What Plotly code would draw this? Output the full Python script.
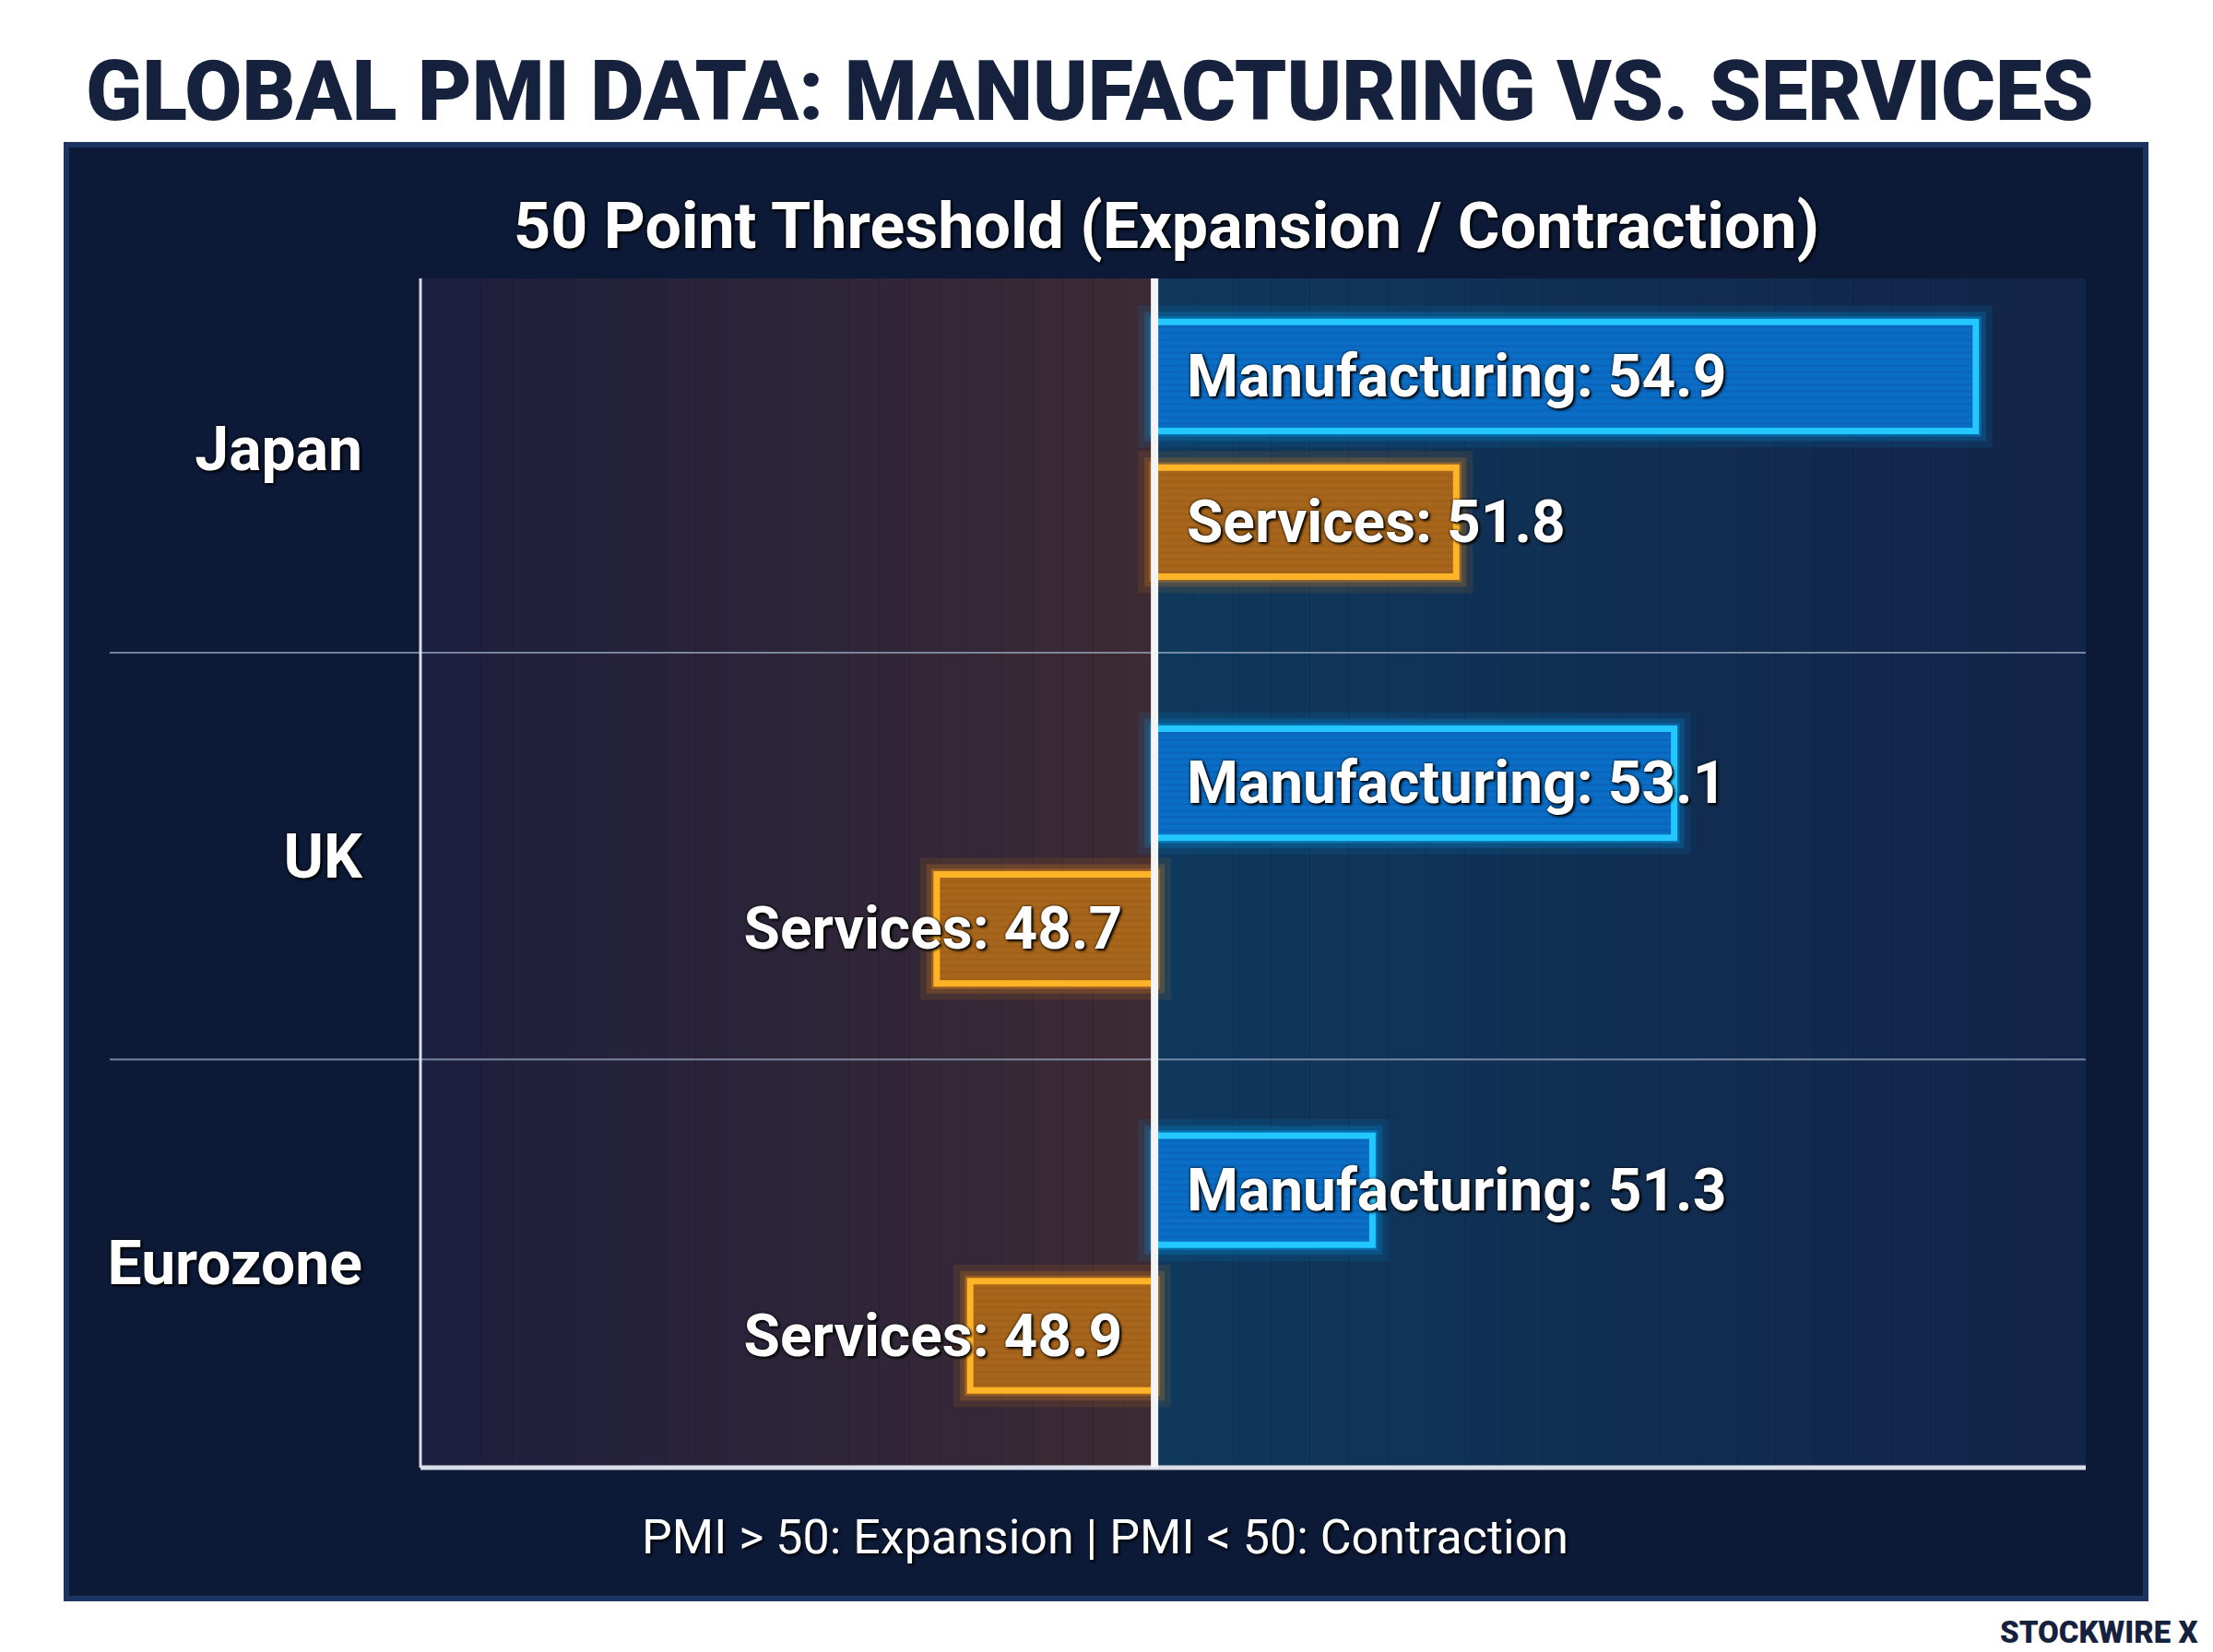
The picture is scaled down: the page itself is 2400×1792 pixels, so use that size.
import plotly.graph_objects as go

# ---------------- data ----------------
countries = ["Japan", "UK", "Eurozone"]
manufacturing = [54.9, 53.1, 51.3]
services = [51.8, 48.7, 48.9]
threshold = 50

title_text = "GLOBAL PMI DATA: MANUFACTURING VS. SERVICES"
subtitle_text = "50 Point Threshold (Expansion / Contraction)"
footer_text = "PMI > 50: Expansion | PMI < 50: Contraction"
brand_text = "STOCKWIRE X"

# ---------------- layout helpers ----------------
W, H = 2400, 1792


def fx(p):
    return p / W


def fy(p):
    return 1 - p / H


PLOT_L, PLOT_R, PLOT_T, PLOT_B = 456, 2262, 302, 1592
X_RANGE = [45.62, 55.556]
Y_RANGE = [2.503, -0.42]
BAR_W = 0.268
MFG_OFF = -0.313
SRV_OFF = 0.045

shadow = "0px 0px 3px #000, 2px 2px 3px #000"
PAD = "\u00a0\u00a0"


def label(name, v):
    # pad on the side of the threshold line
    return f"{PAD}{name}: {v}" if v >= threshold else f"{name}: {v}{PAD}"


fig = go.Figure()

# glow layers
for vals, off, rgb in [(manufacturing, MFG_OFF, "0,170,255"), (services, SRV_OFF, "255,150,20")]:
    for lw, a in [(36, 0.10), (22, 0.18), (12, 0.32)]:
        fig.add_trace(go.Bar(
            y=countries, x=[v - threshold for v in vals], base=threshold,
            orientation="h", offset=off, width=BAR_W,
            marker=dict(color="rgba(0,0,0,0)", line=dict(color=f"rgba({rgb},{a})", width=lw)),
            hoverinfo="skip", showlegend=False,
        ))

text_font = dict(family="Roboto", size=64, color="white", weight=700, shadow=shadow)

fig.add_trace(go.Bar(
    name="Manufacturing", y=countries, x=[v - threshold for v in manufacturing], base=threshold,
    orientation="h", offset=MFG_OFF, width=BAR_W,
    marker=dict(color="#0b6ec6", line=dict(color="#22c8ff", width=7),
                pattern=dict(shape="-", fgcolor="rgba(0,40,110,0.28)", bgcolor="#0b6ec6",
                             size=7, solidity=0.35)),
    text=[label("Manufacturing", v) for v in manufacturing],
    customdata=manufacturing,
    hovertemplate="%{y}<br>Manufacturing: %{customdata}<extra></extra>",
    textposition="inside", insidetextanchor="start", constraintext="none", textangle=0,
    textfont=text_font, cliponaxis=False,
))
fig.add_trace(go.Bar(
    name="Services", y=countries, x=[v - threshold for v in services], base=threshold,
    orientation="h", offset=SRV_OFF, width=BAR_W,
    marker=dict(color="#a8661c", line=dict(color="#ffb427", width=7),
                pattern=dict(shape="-", fgcolor="rgba(110,50,0,0.28)", bgcolor="#a8661c",
                             size=7, solidity=0.35)),
    text=[label("Services", v) for v in services],
    customdata=services,
    hovertemplate="%{y}<br>Services: %{customdata}<extra></extra>",
    textposition="inside", insidetextanchor="start", constraintext="none", textangle=0,
    textfont=text_font, cliponaxis=False,
))

shapes = []
# dark panel
shapes.append(dict(type="rect", xref="paper", yref="paper", x0=fx(72), x1=fx(2327), y0=fy(1734), y1=fy(157),
                   fillcolor="#0c1a37", line=dict(color="#1c3462", width=6), layer="below"))


def lerp(c1, c2, t):
    return "#%02x%02x%02x" % tuple(round(a + (b - a) * t) for a, b in zip(c1, c2))


n = 24
left_c0, left_c1 = (29, 31, 62), (60, 42, 52)
right_c0, right_c1 = (15, 56, 92), (18, 36, 72)
for i in range(n):
    t = i / (n - 1)
    a = X_RANGE[0] + (threshold - X_RANGE[0]) * i / n
    b = X_RANGE[0] + (threshold - X_RANGE[0]) * (i + 1) / n
    shapes.append(dict(type="rect", xref="x", yref="paper", x0=a, x1=b, y0=fy(PLOT_B), y1=fy(PLOT_T),
                       fillcolor=lerp(left_c0, left_c1, t), line=dict(width=0), layer="below"))
    a2 = threshold + (X_RANGE[1] - threshold) * i / n
    b2 = threshold + (X_RANGE[1] - threshold) * (i + 1) / n
    shapes.append(dict(type="rect", xref="x", yref="paper", x0=a2, x1=b2, y0=fy(PLOT_B), y1=fy(PLOT_T),
                       fillcolor=lerp(right_c0, right_c1, t), line=dict(width=0), layer="below"))

# row dividers
for yv in [0.5, 1.5]:
    shapes.append(dict(type="line", xref="paper", yref="y", x0=fx(119), x1=fx(PLOT_R), y0=yv, y1=yv,
                       line=dict(color="rgba(150,165,190,0.75)", width=2), layer="below"))
# left axis line
shapes.append(dict(type="line", xref="paper", yref="paper", x0=fx(PLOT_L), x1=fx(PLOT_L),
                   y0=fy(PLOT_B), y1=fy(PLOT_T), line=dict(color="#d8dde8", width=3)))
# bottom axis line
shapes.append(dict(type="line", xref="paper", yref="paper", x0=fx(PLOT_L), x1=fx(PLOT_R),
                   y0=fy(PLOT_B), y1=fy(PLOT_B), line=dict(color="#d8dde8", width=5)))
# threshold line
shapes.append(dict(type="line", xref="x", yref="paper", x0=threshold, x1=threshold,
                   y0=fy(PLOT_B), y1=fy(PLOT_T), line=dict(color="#f4f4f4", width=8)))

annotations = [
    dict(text=title_text, x=fx(1182), y=fy(100), xref="paper", yref="paper", showarrow=False,
         xanchor="center", yanchor="middle",
         font=dict(family="Roboto", size=90, color="#16223d", weight=900)),
    dict(text=subtitle_text, x=fx(1265), y=fy(245), xref="paper", yref="paper", showarrow=False,
         xanchor="center", yanchor="middle",
         font=dict(family="Roboto", size=70, color="white", weight=700, shadow=shadow)),
    dict(text=footer_text, x=fx(1198), y=fy(1667), xref="paper", yref="paper", showarrow=False,
         xanchor="center", yanchor="middle",
         font=dict(family="Roboto", size=52, color="white", weight=400, shadow="2px 2px 3px #000")),
    dict(text=brand_text, x=fx(2386), y=fy(1770), xref="paper", yref="paper", showarrow=False,
         xanchor="right", yanchor="middle",
         font=dict(family="Roboto", size=33, color="#16223d", weight=900)),
]

fig.update_layout(
    width=W, height=H,
    margin=dict(l=0, r=0, t=0, b=0),
    paper_bgcolor="white", plot_bgcolor="rgba(0,0,0,0)",
    barmode="overlay", showlegend=False,
    shapes=shapes, annotations=annotations,
    xaxis=dict(domain=[fx(PLOT_L), fx(PLOT_R)], range=X_RANGE, visible=False, fixedrange=True),
    yaxis=dict(domain=[fy(PLOT_B), fy(PLOT_T)], range=Y_RANGE, type="category",
               categoryorder="array", categoryarray=countries,
               showgrid=False, zeroline=False, showline=False, ticks="",
               ticklabelstandoff=62,
               tickfont=dict(family="Roboto", size=66, color="white", weight=700, shadow=shadow)),
    font=dict(family="Roboto"),
)

fig.write_html("out.html")
